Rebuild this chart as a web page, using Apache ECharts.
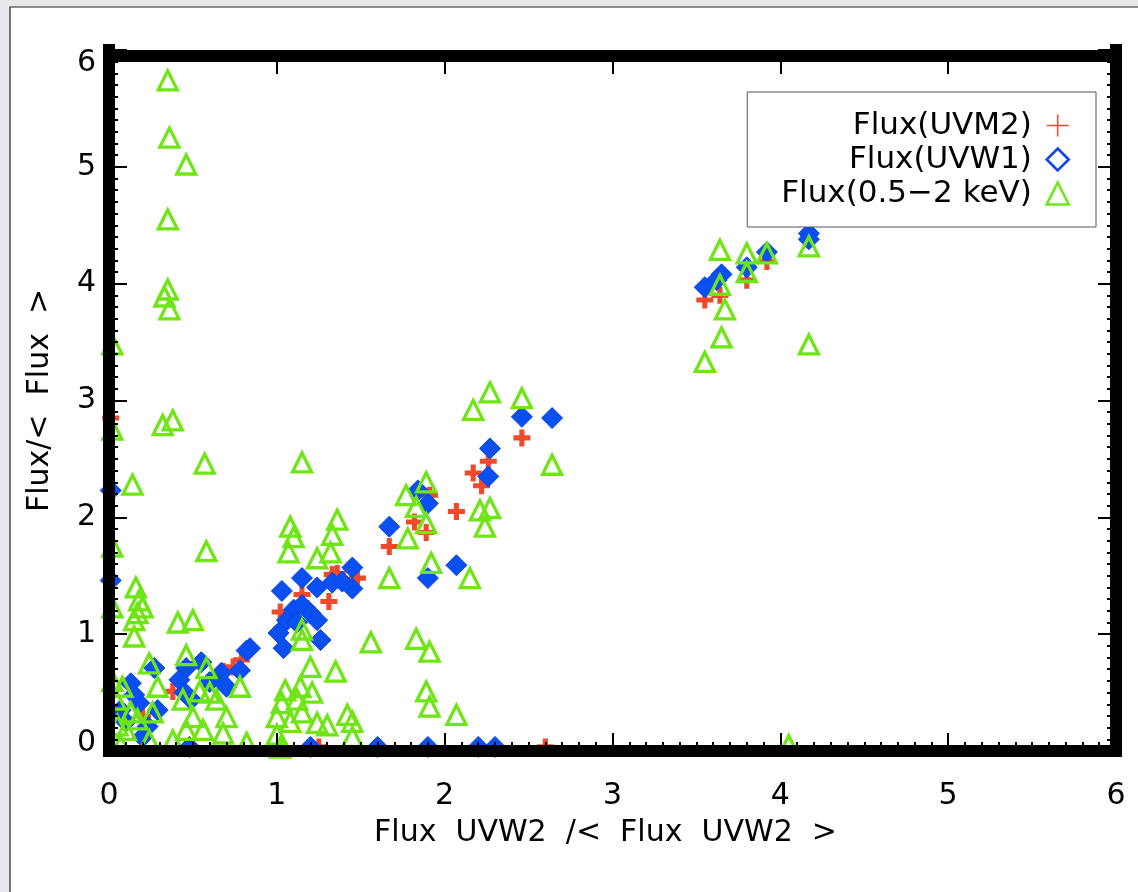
<!DOCTYPE html>
<html>
<head>
<meta charset="utf-8">
<script src="https://cdn.jsdelivr.net/npm/echarts@6/dist/echarts.min.js"></script>
<style>html,body{margin:0;padding:0;background:#e9e9ed;}#c{width:1138px;height:892px;}</style>
</head>
<body>
<div id="c"></div>
<script>
// ---- data: [Flux UVW2 / <Flux UVW2>, Flux / <Flux>] ----
const seriesNames = ['Flux(UVM2)', 'Flux(UVW1)', 'Flux(0.5\u22122 keV)'];
const xTicks = [0, 1, 2, 3, 4, 5, 6];
const yTicks = [0, 1, 2, 3, 4, 5, 6];

const uvm2 = [
  [1.67,1.75],[1.91,2.19],[1.82,1.96],[1.89,1.87],[2.07,2.05],[2.26,2.48],[2.17,2.38],[2.22,2.27],
  [2.46,2.68],[1.15,1.34],[1.31,1.28],[1.33,1.51],[1.36,1.52],[1.48,1.48],[1.02,1.19],[0.68,0.68],
  [0.74,0.72],[0.79,0.78],[0.38,0.51],[3.55,3.86],[3.64,3.90],[3.80,4.03],[3.92,4.19],[4.17,4.41],
  [0.01,2.85],[1.25,0.035],[2.60,0.035],[1.18,1.22],[0.20,0.30]
];

const uvw1 = [
  [1.67,1.92],[1.84,2.23],[1.90,2.12],[2.07,1.59],[1.90,1.48],[2.27,2.59],[2.26,2.35],[2.46,2.86],
  [2.64,2.85],[1.03,1.37],[1.15,1.48],[1.24,1.40],[1.33,1.44],[1.39,1.45],[1.45,1.57],[1.45,1.39],
  [1.10,1.21],[1.15,1.25],[1.20,1.18],[1.06,1.12],[1.24,1.12],[1.12,1.10],[1.01,1.01],[1.26,0.95],
  [1.04,0.88],[0.84,0.88],[0.27,0.71],[0.13,0.58],[0.55,0.76],[0.46,0.71],[0.42,0.61],[0.67,0.67],
  [0.78,0.69],[0.82,0.86],[0.70,0.55],[0.45,0.50],[0.49,0.44],[0.60,0.59],[0.18,0.41],[0.29,0.35],
  [0.23,0.21],[0.15,0.48],[0.07,0.35],[4.17,4.43],[4.17,4.38],[3.80,4.14],[3.92,4.27],[3.55,3.97],
  [3.65,4.08],[3.62,4.03],[0.01,2.23],[0.01,1.46],[0.48,0.035],[1.20,0.035],[1.60,0.035],[1.90,0.035],
  [2.20,0.035],[2.30,0.035],[0.20,0.12],[0.10,0.25]
];

const xray = [
  [0.35,5.74],[0.36,5.25],[0.46,5.02],[0.35,4.55],[0.35,3.95],[0.33,3.89],[0.36,3.78],[0.32,2.79],
  [0.38,2.83],[0.57,2.46],[0.58,1.71],[0.14,2.28],[1.15,2.47],[0.02,3.48],[0.02,2.75],[0.02,1.75],
  [0.02,1.23],[1.08,1.92],[1.10,1.83],[1.07,1.70],[1.36,1.98],[1.33,1.85],[1.32,1.70],[1.24,1.65],
  [1.15,1.04],[1.15,0.95],[1.56,0.93],[1.83,0.96],[1.91,0.85],[1.89,0.51],[1.91,0.38],[2.07,0.31],
  [1.20,0.72],[1.35,0.68],[1.05,0.52],[1.14,0.55],[1.21,0.50],[1.03,0.41],[1.12,0.44],[1.15,0.33],
  [1.00,0.29],[1.08,0.25],[1.24,0.24],[1.30,0.22],[1.42,0.31],[1.45,0.25],[1.00,0.14],[1.45,0.12],
  [1.02,0.03],[1.67,1.48],[1.78,1.82],[1.77,2.19],[1.89,2.30],[1.83,2.09],[1.89,1.95],[1.92,1.61],
  [2.15,1.48],[2.17,2.92],[2.27,3.07],[2.46,3.02],[2.64,2.45],[2.27,2.08],[2.24,1.92],[2.21,2.06],
  [4.17,4.32],[3.64,4.29],[3.80,4.26],[3.80,4.10],[3.92,4.26],[3.64,3.99],[3.67,3.78],[3.65,3.54],
  [3.55,3.33],[4.17,3.48],[4.05,0.05],[0.16,1.40],[0.18,1.29],[0.20,1.23],[0.15,1.12],[0.17,1.18],
  [0.15,0.98],[0.41,1.10],[0.50,1.12],[0.24,0.75],[0.08,0.55],[0.46,0.82],[0.58,0.71],[0.78,0.55],
  [0.29,0.55],[0.44,0.44],[0.54,0.51],[0.60,0.50],[0.64,0.44],[0.13,0.33],[0.17,0.27],[0.10,0.18],
  [0.26,0.33],[0.24,0.09],[0.46,0.18],[0.50,0.29],[0.56,0.18],[0.70,0.29],[0.68,0.15],[0.82,0.07],
  [0.38,0.09],[0.04,0.44],[0.05,0.22],[0.07,0.05],[0.02,0.60]
];

const RED = '#f04a2a', BLUE = '#0a4ff0', GREEN = '#6fe516';
const FONT = 'DejaVu Sans';
const plusPath = 'path://M-1,-0.3H-0.3V-1H0.3V-0.3H1V0.3H0.3V1H-0.3V0.3H-1Z';
const plusThin = 'path://M-1,-0.07H-0.07V-1H0.07V-0.07H1V0.07H0.07V1H-0.07V0.07H-1Z';

const chart = echarts.init(document.getElementById('c'), null, {renderer: 'canvas'});

function axisCommon(showLabel, minor) {
  return {
    min: 0, max: 6, interval: 1,
    zlevel: 1, z: 10,
    splitLine: {show: false},
    axisLine: {show: true, onZero: false, lineStyle: {color: '#000', width: 12, cap: 'square'}},
    axisTick: {show: true, inside: true, length: 18, lineStyle: {color: '#000', width: 2}},
    minorTick: {show: minor, splitNumber: 10, length: 9, lineStyle: {color: '#000', width: 2}},
    axisLabel: {show: showLabel}
  };
}

const yLabelFmt = function (v) {
  if (v === 6) return '{t|6}';
  if (v === 0) return '{b|0}';
  return String(v);
};

const option = {
  animation: false,
  backgroundColor: '#e9e9ed',
  graphic: [{
    type: 'rect', z: -10, silent: true,
    shape: {x: 10, y: 7, width: 1150, height: 900},
    style: {fill: '#ffffff', stroke: '#222', lineWidth: 1.2}
  }],
  grid: {left: 109, right: 22, top: 50, bottom: 141, containLabel: false},
  legend: {
    orient: 'vertical',
    right: 42, top: 92,
    align: 'right',
    itemWidth: 22, itemHeight: 22, itemGap: 1,
    padding: [17, 26, 17, 34],
    backgroundColor: '#fff',
    borderColor: '#555', borderWidth: 1, borderRadius: 0,
    textStyle: {fontFamily: FONT, fontSize: 31, color: '#000', lineHeight: 33},
    formatter: function (n) { return n + ' '; },
    data: [
      {name: seriesNames[0], icon: plusThin, itemStyle: {color: RED, borderWidth: 0}},
      {name: seriesNames[1], icon: 'diamond', itemStyle: {color: 'rgba(0,0,0,0)', borderColor: '#1245ee', borderWidth: 2.6}},
      {name: seriesNames[2], icon: 'triangle', itemStyle: {color: 'rgba(0,0,0,0)', borderColor: '#6ee81e', borderWidth: 2.6}}
    ]
  },
  xAxis: [
    Object.assign(axisCommon(true, true), {
      type: 'value', position: 'bottom',
      name: 'Flux  UVW2  /<  Flux  UVW2  >',
      nameLocation: 'middle', nameGap: 67,
      nameTextStyle: {fontFamily: FONT, fontSize: 30, color: '#000', padding: [0, 14, 0, 0]},
      axisLabel: {show: true, margin: 30, fontFamily: FONT, fontSize: 30, color: '#000'}
    }),
    Object.assign(axisCommon(false, false), {type: 'value', position: 'top', offset: -6})
  ],
  yAxis: [
    Object.assign(axisCommon(true, true), {
      type: 'value', position: 'left',
      name: 'Flux/<  Flux  >',
      nameLocation: 'middle', nameGap: 54, nameRotate: 90,
      nameTextStyle: {fontFamily: FONT, fontSize: 30, color: '#000'},
      axisLabel: {
        show: true, margin: 13, fontFamily: FONT, fontSize: 30, color: '#000',
        formatter: yLabelFmt,
        rich: {
          t: {fontFamily: FONT, fontSize: 30, color: '#000', padding: [26, 0, 0, 0]},
          b: {fontFamily: FONT, fontSize: 30, color: '#000', padding: [0, 0, 16, 0]}
        }
      }
    }),
    Object.assign(axisCommon(false, true), {type: 'value', position: 'right'})
  ],
  series: [
    {
      name: seriesNames[0], type: 'scatter', data: uvm2, z: 2,
      symbol: plusPath, symbolSize: 17,
      itemStyle: {color: RED, opacity: 1}
    },
    {
      name: seriesNames[1], type: 'scatter', data: uvw1, z: 3,
      symbol: 'diamond', symbolSize: 21,
      itemStyle: {color: BLUE, borderColor: '#0845e8', borderWidth: 1, opacity: 1}
    },
    {
      name: seriesNames[2], type: 'scatter', data: xray, z: 4,
      symbol: 'triangle', symbolSize: 19,
      itemStyle: {color: 'rgba(0,0,0,0)', borderColor: GREEN, borderWidth: 3.3, opacity: 1}
    }
  ]
};
chart.setOption(option);
</script>
</body>
</html>
